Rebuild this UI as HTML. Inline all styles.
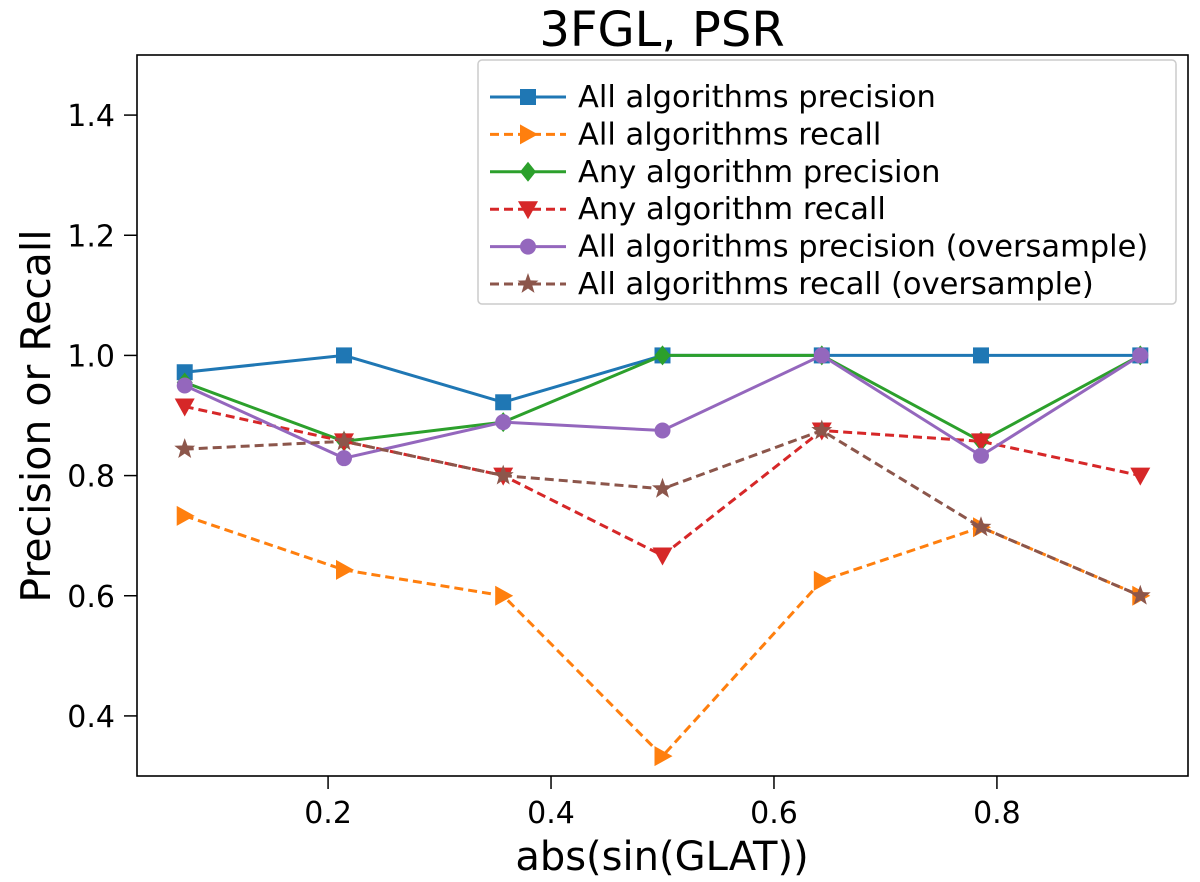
<!DOCTYPE html>
<html><head><meta charset="utf-8"><style>
html,body{margin:0;padding:0;background:#fff;}
svg{display:block;font-family:"DejaVu Sans","Liberation Sans",sans-serif;}
</style></head><body>
<svg id="chart" width="1200" height="882"></svg>
<script>
const categories = [0.0714, 0.2143, 0.3571, 0.5, 0.6429, 0.7857, 0.9286];
const allPrec = [0.972, 1.0, 0.922, 1.0, 1.0, 1.0, 1.0];
const allRecall = [0.733, 0.643, 0.6, 0.333, 0.625, 0.714, 0.6];
const anyPrec = [0.955, 0.857, 0.889, 1.0, 1.0, 0.857, 1.0];
const anyRecall = [0.915, 0.857, 0.8, 0.667, 0.875, 0.857, 0.8];
const allPrecOS = [0.95, 0.829, 0.889, 0.875, 1.0, 0.833, 1.0];
const allRecallOS = [0.844, 0.857, 0.8, 0.778, 0.875, 0.714, 0.6];
const xTicks = [0.2, 0.4, 0.6, 0.8];
const yTicks = [0.4, 0.6, 0.8, 1.0, 1.2, 1.4];
const seriesNames = ["All algorithms precision","All algorithms recall","Any algorithm precision","Any algorithm recall","All algorithms precision (oversample)","All algorithms recall (oversample)"];

const NS="http://www.w3.org/2000/svg";
const svg=document.getElementById('chart');
const L=137,R=1188,T=55,B=776;
const xMin=0.0286,xMax=0.9714,yMin=0.3,yMax=1.5;
const xs=v=>L+(v-xMin)/(xMax-xMin)*(R-L);
const ys=v=>B-(v-yMin)/(yMax-yMin)*(B-T);
function mk(tag,attrs,parent){const e=document.createElementNS(NS,tag);for(const k in attrs)e.setAttribute(k,attrs[k]);(parent||svg).appendChild(e);return e;}

const series=[
 {d:allPrec,c:"#1f77b4",dash:"",m:"square",name:"all-precision"},
 {d:allRecall,c:"#ff7f0e",dash:"9,5",m:"tri-right",name:"all-recall"},
 {d:anyPrec,c:"#2ca02c",dash:"",m:"diamond",name:"any-precision"},
 {d:anyRecall,c:"#d62728",dash:"9,5",m:"tri-down",name:"any-recall"},
 {d:allPrecOS,c:"#9467bd",dash:"",m:"circle",name:"all-precision-oversample"},
 {d:allRecallOS,c:"#8c564b",dash:"9,5",m:"star",name:"all-recall-oversample"}
];
function marker(type,x,y,c,g){
  const s=8;let e;
  if(type==="square")e=mk('rect',{x:x-s,y:y-s,width:2*s,height:2*s,fill:c},g);
  else if(type==="circle")e=mk('ellipse',{cx:x,cy:y,rx:s,ry:s,fill:c},g);
  else if(type==="diamond")e=mk('polygon',{points:`${x},${y-10} ${x+8},${y} ${x},${y+10} ${x-8},${y}`,fill:c},g);
  else if(type==="tri-right")e=mk('polygon',{points:`${x-8},${y-10} ${x+10},${y} ${x-8},${y+10}`,fill:c},g);
  else if(type==="tri-down")e=mk('polygon',{points:`${x-10},${y-8} ${x+10},${y-8} ${x},${y+10}`,fill:c},g);
  else{let p=[];for(let i=0;i<10;i++){const r=i%2?4.5:11;const a=-Math.PI/2+i*Math.PI/5;p.push((x+r*Math.cos(a)).toFixed(1)+","+(y+r*Math.sin(a)).toFixed(1));}e=mk('polygon',{points:p.join(" "),fill:c},g);}
  return e;
}
const frame=mk('rect',{x:L,y:T,width:R-L,height:B-T,fill:"none",stroke:"#000","stroke-width":1.6});


xTicks.forEach(t=>{
  const g=mk('g',{});
  
  
  mk('line',{x1:xs(t),x2:xs(t),y1:B,y2:B+13,stroke:"#000","stroke-width":1.5},g);
  const tx=mk('text',{x:xs(t),y:B+47,"text-anchor":"middle","font-size":30},g);tx.textContent=t.toFixed(1);
});
yTicks.forEach(t=>{
  const g=mk('g',{});
  
  
  mk('line',{x1:L-13,x2:L,y1:ys(t),y2:ys(t),stroke:"#000","stroke-width":1.5},g);
  const tx=mk('text',{x:L-22,y:ys(t)+11,"text-anchor":"end","font-size":30},g);tx.textContent=t.toFixed(1);
});
series.forEach(s=>{
  const g=mk('g',{});
  
  
  const pts=s.d.map((v,i)=>xs(categories[i])+","+ys(v)).join(" ");
  mk('polyline',{points:pts,fill:"none",stroke:s.c,"stroke-width":3,"stroke-dasharray":s.dash},g);
  s.d.forEach((v,i)=>{const m=marker(s.m,xs(categories[i]),ys(v),s.c,g);
    
    });
});
const lg=mk('g',{});


mk('rect',{x:478,y:60,width:698,height:244,rx:4,fill:"#fff",stroke:"#ccc","stroke-width":1.5},lg);
series.forEach((s,i)=>{
  const y=97+i*37.4;
  const g=mk('g',{},lg);
  
  
  mk('line',{x1:490,x2:566,y1:y,y2:y,stroke:s.c,"stroke-width":3,"stroke-dasharray":s.dash},g);
  marker(s.m,528,y,s.c,g);
  const t=mk('text',{x:578,y:y+10,"font-size":30.5},g);t.textContent=seriesNames[i];
});
const title=mk('text',{x:662,y:46,"text-anchor":"middle","font-size":48});title.textContent="3FGL, PSR";

const xl=mk('text',{x:662,y:870,"text-anchor":"middle","font-size":40});xl.textContent="abs(sin(GLAT))";

const yl=mk('text',{x:0,y:0,"text-anchor":"middle","font-size":41,transform:"translate(50,416) rotate(-90)"});yl.textContent="Precision or Recall";

</script>
</body></html>
